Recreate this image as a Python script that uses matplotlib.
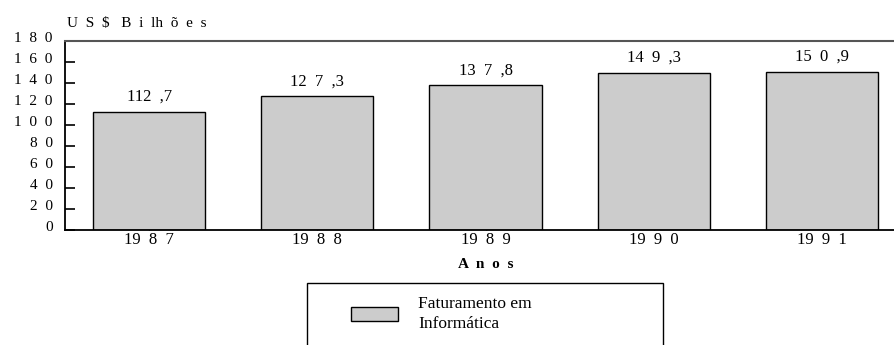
import numpy as np
import matplotlib
matplotlib.use("Agg")
import matplotlib.pyplot as plt
import matplotlib.transforms as mtransforms
from matplotlib.patches import Patch, Rectangle

plt.rcParams['font.family'] = ['Liberation Serif', 'DejaVu Serif']

# faturamento anual (US$ bilhoes)
years = [1987, 1988, 1989, 1990, 1991]
year_labels = ["19  8  7", "19  8  8", "19  8  9", "19  9  0", "19  9  1"]
values = [112.7, 127.3, 137.8, 149.3, 150.9]
value_labels = ["112  ,7", "12  7  ,3", "13  7  ,8", "14  9  ,3", "15  0  ,9"]
y_ticks = [0, 20, 40, 60, 80, 100, 120, 140, 160, 180]
y_tick_labels = ["0", "2  0", "4  0", "6  0", "8  0", "1  0  0", "1  2  0",
                 "1  4  0", "1  6  0", "1  8  0"]

W, H = 894, 345
fig = plt.figure(figsize=(W / 100, H / 100), dpi=100)
ax = fig.add_axes([65 / W, 115 / H, 841 / W, 189 / H])

x = np.arange(len(years))
ax.bar(x, values, width=0.667, color="#cccccc", edgecolor="black", linewidth=1.0, zorder=2)

for xi, v, lab in zip(x, values, value_labels):
    ax.annotate(lab, (xi, v), xytext=(0, 8), textcoords="offset points",
                ha="center", va="baseline", fontsize=12)

ax.set_xlim(-0.5, 4.5)
ax.set_ylim(0, 180)
ax.set_xticks(x)
ax.set_xticklabels(year_labels, fontsize=12)
ax.set_yticks(y_ticks)
ax.set_yticklabels(y_tick_labels, fontsize=11)
ax.tick_params(axis="y", direction="in", length=7, width=1.2, pad=9, right=False)
ax.tick_params(axis="x", direction="in", length=4, width=1.0, pad=1.5)

# labels sit a little above their ticks
shift = mtransforms.ScaledTranslation(0, 4 / 100, fig.dpi_scale_trans)
for t in ax.get_yticklabels():
    t.set_transform(t.get_transform() + shift)

for side in ["left", "bottom"]:
    ax.spines[side].set_color("black")
    ax.spines[side].set_linewidth(1.3)
ax.spines["top"].set_color("#555555")
ax.spines["top"].set_linewidth(1.5)
ax.spines["right"].set_visible(False)

ax.set_xlabel("A  n  o  s", fontsize=11, fontweight="bold", labelpad=7)
fig.text(67 / W, 1 - 27 / H, "U  S  $   B  i  lh  õ  e  s", fontsize=11,
         va="baseline", ha="left")

# legend box
fig.patches.append(Rectangle((307 / W, -0.05), 356 / W, 0.05 + (H - 283) / H,
                             transform=fig.transFigure, fill=False,
                             edgecolor="black", linewidth=1.0))
handle = Patch(facecolor="#cccccc", edgecolor="black", linewidth=1.0)
fig.legend([handle], ["Faturamento em\nInformática"], frameon=False,
           loc="center left", bbox_to_anchor=(351 / W, 1 - 314 / H),
           fontsize=12.5, handlelength=2.7, handleheight=0.8,
           handletextpad=1.15, borderpad=0, borderaxespad=0)
for t in fig.legends[0].get_texts():
    t.set_linespacing(1.3)

fig.savefig("out.png", dpi=100)
